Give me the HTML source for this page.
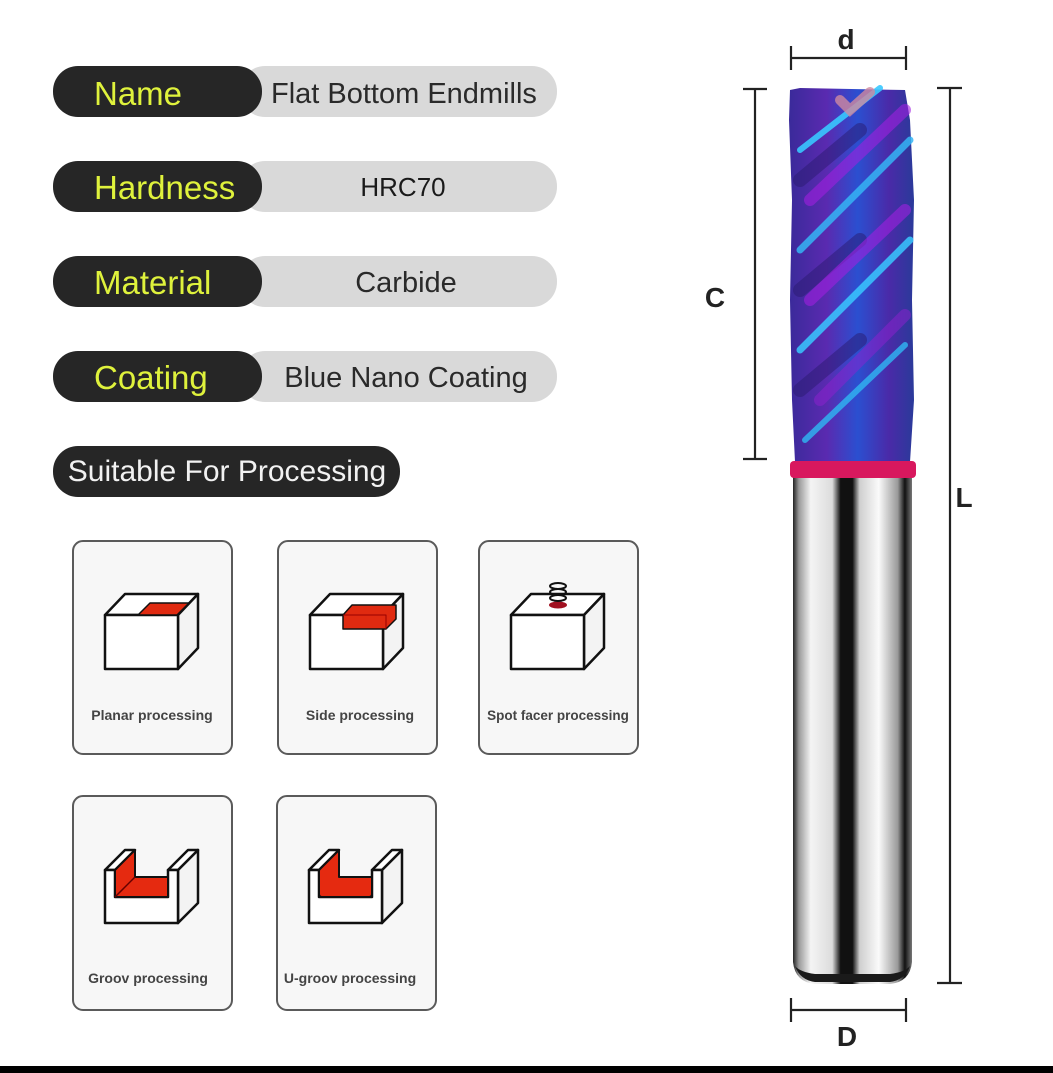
<!DOCTYPE html>
<html><head><meta charset="utf-8"><style>
html,body{margin:0;padding:0;background:#fff;width:1053px;height:1073px;overflow:hidden}
svg{display:block}
text{font-family:"Liberation Sans",Arial,sans-serif}
</style></head><body>
<svg width="1053" height="1073" viewBox="0 0 1053 1073" xmlns="http://www.w3.org/2000/svg">
<defs>
<linearGradient id="shank" x1="0" x2="1" y1="0" y2="0">
<stop offset="0" stop-color="#222"/>
<stop offset="0.05" stop-color="#9a9a9a"/>
<stop offset="0.15" stop-color="#f4f4f4"/>
<stop offset="0.33" stop-color="#dcdcdc"/>
<stop offset="0.4" stop-color="#111"/>
<stop offset="0.5" stop-color="#111"/>
<stop offset="0.56" stop-color="#cfcfcf"/>
<stop offset="0.72" stop-color="#fafafa"/>
<stop offset="0.88" stop-color="#9a9a9a"/>
<stop offset="0.94" stop-color="#111"/>
<stop offset="1" stop-color="#777"/>
</linearGradient>
<linearGradient id="flute" x1="0" x2="1" y1="0" y2="0">
<stop offset="0" stop-color="#3a2a9a"/>
<stop offset="0.3" stop-color="#5a2ab0"/>
<stop offset="0.55" stop-color="#2b4fd0"/>
<stop offset="0.8" stop-color="#4a2aa8"/>
<stop offset="1" stop-color="#2a3a9a"/>
</linearGradient>
</defs>

<g font-size="29" fill="#222">
<rect x="240" y="66" width="317" height="51" rx="25" fill="#d9d9d9"/>
<rect x="53" y="66" width="209" height="51" rx="25" fill="#262626"/>
<text x="94" y="105" font-size="33" fill="#dff23c">Name</text>
<text x="271" y="103" fill="#2a2a2a">Flat Bottom Endmills</text>

<rect x="240" y="161" width="317" height="51" rx="25" fill="#d9d9d9"/>
<rect x="53" y="161" width="209" height="51" rx="25" fill="#262626"/>
<text x="94" y="199" font-size="33" fill="#dff23c">Hardness</text>
<text x="403" y="196" text-anchor="middle" fill="#1a1a1a" font-size="26">HRC70</text>

<rect x="240" y="256" width="317" height="51" rx="25" fill="#d9d9d9"/>
<rect x="53" y="256" width="209" height="51" rx="25" fill="#262626"/>
<text x="94" y="294" font-size="33" fill="#dff23c">Material</text>
<text x="406" y="292" text-anchor="middle" fill="#2a2a2a">Carbide</text>

<rect x="240" y="351" width="317" height="51" rx="25" fill="#d9d9d9"/>
<rect x="53" y="351" width="209" height="51" rx="25" fill="#262626"/>
<text x="94" y="389" font-size="33" fill="#dff23c">Coating</text>
<text x="406" y="387" text-anchor="middle" fill="#2a2a2a">Blue Nano Coating</text>

<rect x="53" y="446" width="347" height="51" rx="25" fill="#262626"/>
<text x="227" y="481" text-anchor="middle" font-size="30" fill="#f2f2f2">Suitable For Processing</text>
</g>

<g fill="#f7f7f7" stroke="#5a5a5a" stroke-width="2">
<rect x="73" y="541" width="159" height="213" rx="10"/>
<rect x="278" y="541" width="159" height="213" rx="10"/>
<rect x="479" y="541" width="159" height="213" rx="10"/>
<rect x="73" y="796" width="159" height="214" rx="10"/>
<rect x="277" y="796" width="159" height="214" rx="10"/>
</g>
<g font-size="14" font-weight="bold" fill="#444" text-anchor="middle">
<text x="152" y="720">Planar processing</text>
<text x="360" y="720">Side processing</text>
<text x="558" y="720" font-size="13.5">Spot facer processing</text>
<text x="148" y="983">Groov processing</text>
<text x="350" y="983">U-groov processing</text>
</g>

<g stroke="#111" stroke-width="2.5" stroke-linejoin="round" fill="#fff">
<g transform="translate(105,615)">
<path d="M0 0 L20 -21 L93 -21 L73 0 Z"/>
<path d="M73 0 L93 -21 L93 33 L73 54 Z" fill="#f3f3f3"/>
<rect x="0" y="0" width="73" height="54"/>
<path d="M33 0 L45 -12 L84 -12 L72 0 Z" fill="#e02a10" stroke-width="1.5"/>
</g>
<g transform="translate(310,615)">
<path d="M0 0 L20 -21 L93 -21 L73 0 Z"/>
<path d="M73 0 L93 -21 L93 33 L73 54 Z" fill="#f3f3f3"/>
<rect x="0" y="0" width="73" height="54"/>
<path d="M33 0 L42 -10 L86 -10 L86 4 L76 14 L76 14 L33 14 Z" fill="#e02a10" stroke-width="1.5"/>
<path d="M33 0 L76 0 L76 14" fill="none" stroke="#900" stroke-width="1"/>
</g>
<g transform="translate(511,615)">
<path d="M0 0 L20 -21 L93 -21 L73 0 Z"/>
<path d="M73 0 L93 -21 L93 33 L73 54 Z" fill="#f3f3f3"/>
<rect x="0" y="0" width="73" height="54"/>
<ellipse cx="47" cy="-10" rx="9" ry="3.5" fill="#a01020" stroke="none"/>
<g fill="none" stroke-width="2">
<ellipse cx="47" cy="-17" rx="8" ry="3"/>
<ellipse cx="47" cy="-23" rx="8" ry="3"/>
<ellipse cx="47" cy="-29" rx="8" ry="3"/>
</g>
</g>
<g transform="translate(105,870)">
<path d="M73 0 L93 -20 L93 33 L73 53 Z" fill="#f3f3f3"/>
<path d="M0 0 L20 -20 L30 -20 L10 0 Z"/>
<path d="M63 0 L83 -20 L93 -20 L73 0 Z"/>
<path d="M0 0 L10 0 L10 27 L63 27 L63 0 L73 0 L73 53 L0 53 Z"/>
<path d="M10 0 L30 -20 L30 7 L63 7 L63 27 L10 27 Z" fill="#e52a10" stroke-width="2"/>
<path d="M10 27 L30 7" stroke="#600" stroke-width="1.5"/>
</g>
<g transform="translate(309,870)">
<path d="M73 0 L93 -20 L93 33 L73 53 Z" fill="#f3f3f3"/>
<path d="M0 0 L20 -20 L30 -20 L10 0 Z"/>
<path d="M63 0 L83 -20 L93 -20 L73 0 Z"/>
<path d="M0 0 L10 0 L10 27 L63 27 L63 0 L73 0 L73 53 L0 53 Z"/>
<path d="M10 0 L30 -20 L30 7 L63 7 L63 24 Q63 27 60 27 L13 27 Q10 27 10 24 Z" fill="#e52a10" stroke-width="2"/>
</g>
</g>

<path d="M793 476 L912 476 L912 962 Q910 982 890 984 L815 984 Q795 982 793 962 Z" fill="url(#shank)"/>
<path d="M795 966 Q800 980 815 982 L890 982 Q905 980 910 966 Q905 972 890 974 L815 974 Q800 972 795 966 Z" fill="#1a1a1a"/>
<path d="M790 90 L800 88 L905 90 L910 120 L914 200 L912 300 L914 400 L910 462 L795 462 L792 400 L790 300 L792 200 L789 120 Z" fill="url(#flute)"/>
<g fill="none" stroke-linecap="round">
<path d="M800 180 L860 130" stroke="#2a1a70" stroke-width="14" opacity="0.5"/>
<path d="M800 290 L860 240" stroke="#2a1a70" stroke-width="14" opacity="0.5"/>
<path d="M800 390 L860 340" stroke="#2a1a70" stroke-width="14" opacity="0.5"/>
<path d="M800 150 L880 88" stroke="#38c8ff" stroke-width="6" opacity="0.9"/>
<path d="M800 250 L910 140" stroke="#35b5f5" stroke-width="7" opacity="0.85"/>
<path d="M800 350 L910 240" stroke="#38c8ff" stroke-width="7" opacity="0.85"/>
<path d="M805 440 L905 345" stroke="#30b0f0" stroke-width="6" opacity="0.85"/>
<path d="M810 200 L905 110" stroke="#a020e0" stroke-width="12" opacity="0.6"/>
<path d="M810 300 L905 210" stroke="#a020e0" stroke-width="12" opacity="0.6"/>
<path d="M820 400 L905 315" stroke="#9020d0" stroke-width="12" opacity="0.5"/>
<path d="M840 100 L850 110 L870 92" stroke="#d08aa0" stroke-width="10" opacity="0.8"/>
</g>
<rect x="790" y="461" width="126" height="17" rx="4" fill="#d8185e"/>

<g stroke="#222" stroke-width="2.2" fill="none">
<path d="M791 58 L906 58 M791 46 L791 70 M906 46 L906 70"/>
<path d="M755 89 L755 459 M743 89 L767 89 M743 459 L767 459"/>
<path d="M950 88 L950 983 M937 88 L962 88 M937 983 L962 983"/>
<path d="M791 1010 L906 1010 M791 998 L791 1022 M906 998 L906 1022"/>
</g>
<g font-size="28" font-weight="bold" fill="#222" text-anchor="middle">
<text x="846" y="49">d</text>
<text x="715" y="307">C</text>
<text x="964" y="507">L</text>
<text x="847" y="1046">D</text>
</g>

<rect x="0" y="1066" width="1053" height="7" fill="#000"/>
</svg>
</body></html>
